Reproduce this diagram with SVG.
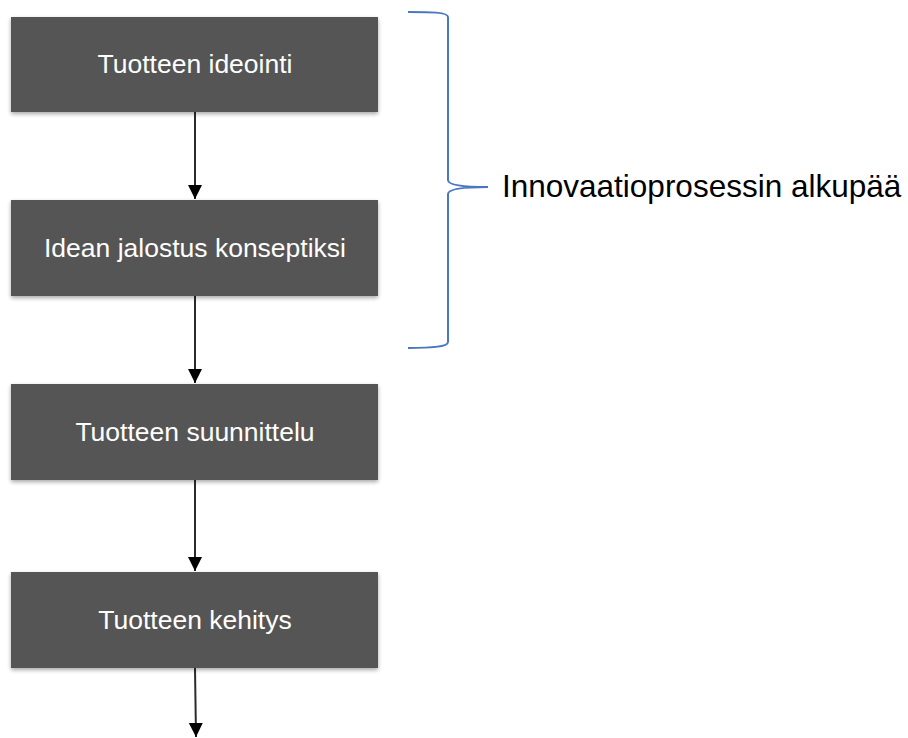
<svg xmlns="http://www.w3.org/2000/svg" width="908" height="738" viewBox="0 0 908 738">
<style>
.box{fill:#545454;filter:url(#sh)}
.lbl{fill:#ffffff;font-family:"Liberation Sans",Arial,sans-serif;font-size:26.5px;text-anchor:middle}
.conn{stroke:#2b2b2b;stroke-width:2;fill:none;marker-end:url(#ah)}
.brace{stroke:#4a78c0;stroke-width:2;fill:none}
.note{fill:#000;font-family:"Liberation Sans",Arial,sans-serif;font-size:31.5px}
</style>
<defs>
<filter id="sh" x="-5%" y="-10%" width="110%" height="125%">
<feGaussianBlur in="SourceAlpha" stdDeviation="2"/>
<feOffset dy="2"/>
<feComponentTransfer><feFuncA type="linear" slope="0.35"/></feComponentTransfer>
<feMerge><feMergeNode/><feMergeNode in="SourceGraphic"/></feMerge>
</filter>
<marker id="ah" markerUnits="userSpaceOnUse" markerWidth="16" markerHeight="16" refX="14" refY="7" orient="auto">
<path d="M0,0 L14,7 L0,14 Z" fill="#000"/>
</marker>
</defs>
<rect width="908" height="738" fill="#fff"/>
<g id="connectors">
<line class="conn" x1="195" y1="112" x2="195" y2="199"/>
<line class="conn" x1="195" y1="296" x2="195" y2="383"/>
<line class="conn" x1="195" y1="480" x2="195" y2="571"/>
<line class="conn" x1="195" y1="668" x2="196" y2="737"/>
</g>
<g id="n1"><rect class="box" x="11" y="17" width="367" height="95"/><text class="lbl" x="195" y="73">Tuotteen ideointi</text></g>
<g id="n2"><rect class="box" x="11" y="200" width="367" height="96"/><text class="lbl" x="195" y="257">Idean jalostus konseptiksi</text></g>
<g id="n3"><rect class="box" x="11" y="384" width="367" height="96"/><text class="lbl" x="195" y="441">Tuotteen suunnittelu</text></g>
<g id="n4"><rect class="box" x="11" y="572" width="367" height="96"/><text class="lbl" x="195" y="629">Tuotteen kehitys</text></g>
<g id="brace">
<path class="brace" d="M408,12 C430,12 448,12 448,17 L448,180 C448,186 470,187 488,187 C470,187 448,188 448,194 L448,342 C448,347 430,348 408,348"/>
<text class="note" x="502" y="197">Innovaatioprosessin alkupää</text>
</g>
</svg>
